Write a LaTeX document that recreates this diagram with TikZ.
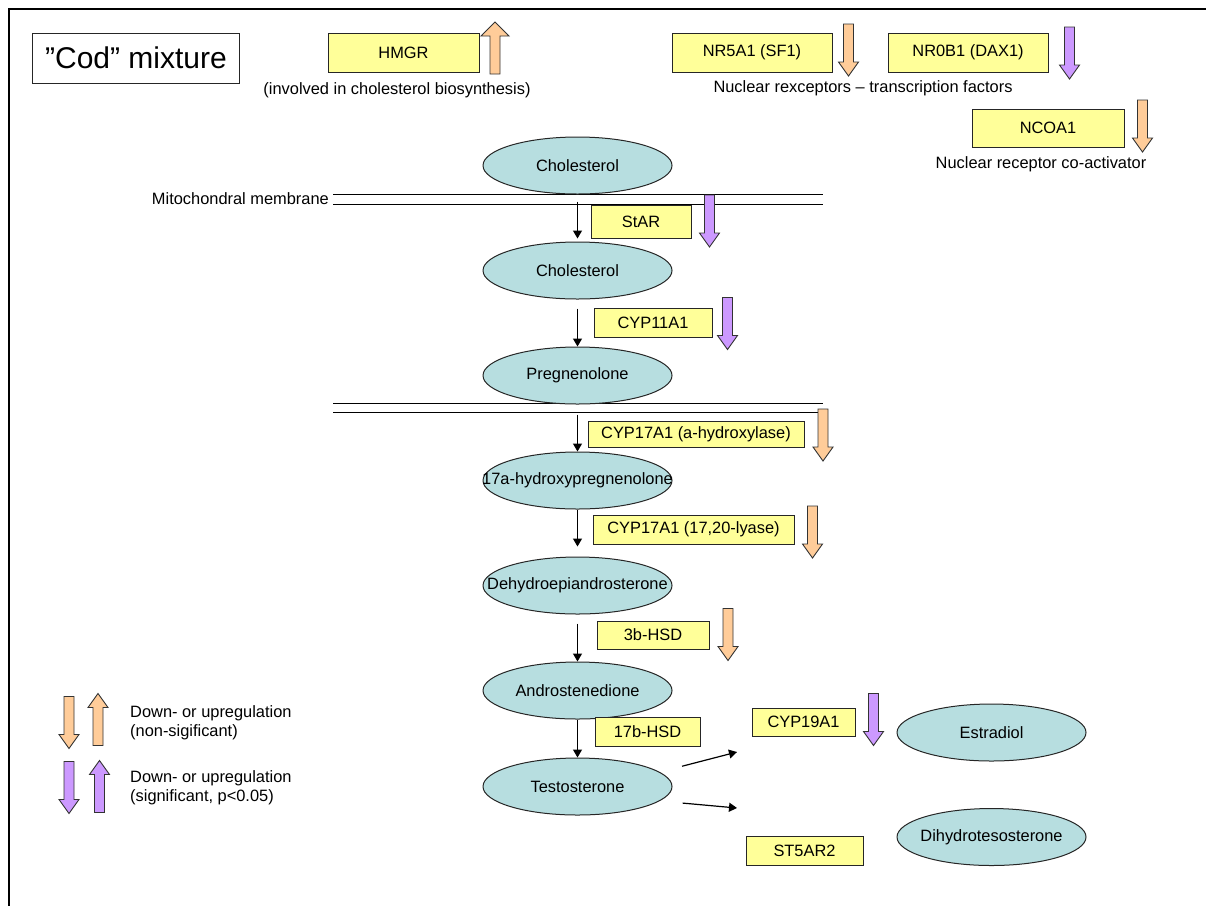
\documentclass[tikz,border=0pt]{standalone}
\usepackage{fontspec}
\setmainfont{Liberation Sans}
\usepackage{tikz}
\usetikzlibrary{shapes.geometric,positioning,arrows.meta}
\definecolor{enzfill}{HTML}{FFFF99}
\definecolor{cmpfill}{RGB}{183,222,224}
\definecolor{nonsig}{HTML}{FFCC99}
\definecolor{signif}{HTML}{CC99FF}

\begin{document}
\begin{tikzpicture}[x=1pt,y=-1pt,>={Triangle[length=8pt,width=9pt]},
	font=\fontsize{16.4}{19.5}\selectfont,node distance=47pt,
	compound/.style={ellipse,draw=black!85,fill=cmpfill,line width=1pt,minimum width=189pt,minimum height=57pt,inner sep=0pt},
	enzyme/.style={rectangle,draw=black!85,fill=enzfill,line width=1pt,inner sep=0pt,minimum height=29pt},
	flow/.style={->,line width=1.2pt},
	membrane/.style={line width=1pt},
	pics/fatdown/.style 2 args={code={\draw[draw=black!80,line width=0.9pt,fill=#1] (-5,-26) -- (5,-26) -- (5,12) -- (#2,12) -- (0,26) -- (-#2,12) -- (-5,12) -- cycle;}},
	pics/fatup/.style 2 args={code={\draw[draw=black!80,line width=0.9pt,fill=#1] (-5,26) -- (5,26) -- (5,-12) -- (#2,-12) -- (0,-26) -- (-#2,-12) -- (-5,-12) -- cycle;}}]
	\useasboundingbox (0,0) rectangle (1206,906);
	\draw[line width=2pt] (1206,8.5) -- (8.5,8.5) -- (8.5,906);

	% title and regulators
	\node[draw=black!85,line width=1pt,minimum width=207pt,minimum height=50pt,font=\fontsize{30}{36}\selectfont] (cod) at (136,58) {”Cod” mixture};
	\node[enzyme,minimum width=151pt,minimum height=39pt] (hmgr) at (403.5,52.5) {HMGR};
	\node[enzyme,minimum width=160pt,minimum height=39pt] (nr5a1) at (752,52.5) {NR5A1 (SF1)};
	\node[enzyme,minimum width=160pt,minimum height=39pt] (nr0b1) at (968,52.5) {NR0B1 (DAX1)};
	\node[enzyme,minimum width=152pt,minimum height=38pt] (ncoa1) at (1048,128) {NCOA1};
	\node (hmgrnote) at (397,90) {(involved in cholesterol biosynthesis)};
	\node (nrnote) at (863,88) {Nuclear rexceptors – transcription factors};
	\node (ncoanote) at (1041,164) {Nuclear receptor co-activator};
	\pic at (495,48) {fatup={nonsig}{14}};
	\pic at (848.5,50) {fatdown={nonsig}{10}};
	\pic at (1069.5,53) {fatdown={signif}{10}};
	\pic at (1142.5,126) {fatdown={nonsig}{10}};

	% membranes
	\node[anchor=east,inner sep=0pt] (mito) at (329,199) {Mitochondral membrane};
	\draw[membrane] (333,194) -- (823,194) (333,204) -- (823,204);
	\draw[membrane] (333,403) -- (823,403) (333,412) -- (823,412);

	% steroid pathway
	\node[compound,label={center:Cholesterol}] (chol1) at (577.5,165.5) {};
	\node[compound,label={center:Cholesterol}] (chol2) [below=of chol1] {};
	\node[compound,label={center:Pregnenolone}] (preg) [below=of chol2] {};
	\node[compound,label={center:17a-hydroxypregnenolone}] (hydroxy) [below=of preg] {};
	\node[compound,label={center:Dehydroepiandrosterone}] (dhea) [below=of hydroxy] {};
	\node[compound,label={center:Androstenedione}] (andro) [below=of dhea] {};
	\node[compound,label={center:Testosterone}] (testo) [below=38pt of andro] {};
	\node[compound,label={center:Estradiol}] (estr) at (991.5,732.5) {};
	\node[compound,label={center:Dihydrotesosterone}] (dht) at (991.5,837) {};

	\node[enzyme,minimum width=100pt,minimum height=33pt] (star) at (641,221.5) {StAR};
	\node[enzyme,minimum width=118pt] (cyp11) at (653,322.5) {CYP11A1};
	\node[enzyme,minimum width=216pt,minimum height=26pt] (cyp17a) at (696,434) {CYP17A1 (a-hydroxylase)};
	\node[enzyme,minimum width=201pt] (cyp17b) at (693.5,529.5) {CYP17A1 (17,20-lyase)};
	\node[enzyme,minimum width=112pt,minimum height=28pt] (hsd3) at (653,635) {3b-HSD};
	\node[enzyme,minimum width=105pt] (hsd17) at (647.5,731.5) {17b-HSD};
	\node[enzyme,minimum width=103pt,minimum height=28pt] (cyp19) at (803.5,722) {CYP19A1};
	\node[enzyme,minimum width=117pt] (st5ar2) at (804.5,850.5) {ST5AR2};

	\pic at (709.5,221) {fatdown={signif}{10}};
	\pic at (727.5,323.5) {fatdown={signif}{10}};
	\pic at (823,435) {fatdown={nonsig}{10}};
	\pic at (812.5,532) {fatdown={nonsig}{10}};
	\pic at (728,634.5) {fatdown={nonsig}{10}};
	\pic at (873.5,719.5) {fatdown={signif}{10}};

	\draw[flow,shorten <=7pt,shorten >=3pt] (chol1) -- (chol2);
	\draw[flow,shorten <=9pt] (chol2) -- (preg);
	\draw[flow,shorten <=10pt] (preg) -- (hydroxy);
	\draw[flow,shorten >=10pt] (hydroxy) -- (dhea);
	\draw[flow,shorten <=9pt] (dhea) -- (andro);
	\draw[flow] (andro) -- (testo);
	\coordinate (toestr) at (737,752);
	\coordinate (todht) at (737,808);
	\draw[flow,shorten <=23pt] (testo.10) -- (toestr);
	\draw[flow,shorten <=23pt] (testo.-10) -- (todht);

	% legend
	\pic at (69,722.5) {fatdown={nonsig}{10}};
	\pic at (98,719.5) {fatup={nonsig}{10}};
	\pic at (69,787.5) {fatdown={signif}{10}};
	\pic at (99.5,786.5) {fatup={signif}{10}};
	\node[anchor=west,align=left,inner sep=0pt] (legns) at (130,722.5) {Down- or upregulation\\(non-sigificant)};
	\node[anchor=west,align=left,inner sep=0pt] (legsig) at (130,787.5) {Down- or upregulation\\(significant, p<0.05)};
\end{tikzpicture}
\end{document}
